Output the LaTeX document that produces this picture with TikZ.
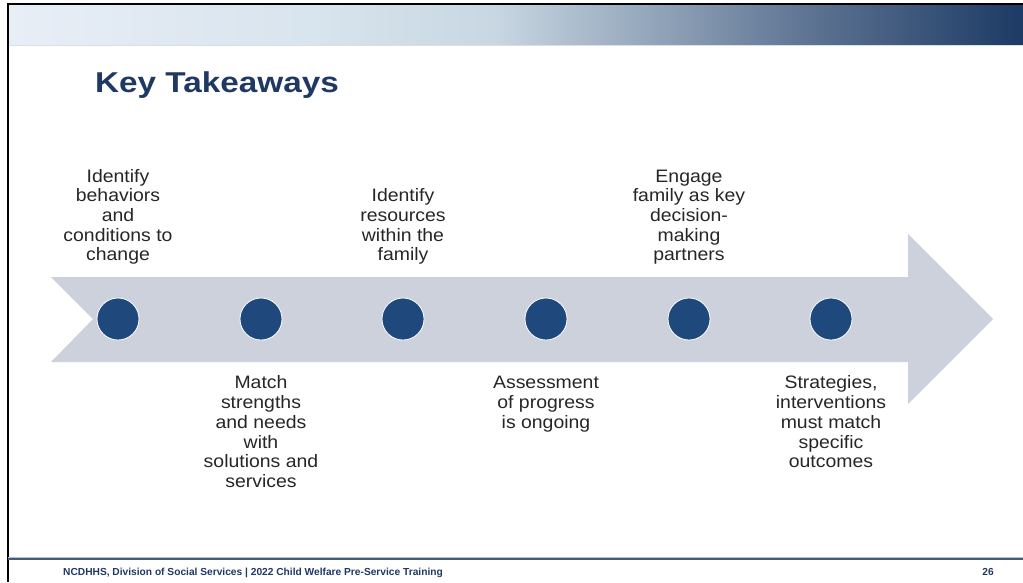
\documentclass[tikz,border=0pt]{standalone}
\usepackage{fontspec}
\setmainfont{Liberation Sans}
\newfontfamily\bodyfont[FakeStretch=1.08]{Liberation Sans}
\newfontfamily\titlefont[FakeStretch=1.16]{Liberation Sans}
\definecolor{arrowgray}{RGB}{205,209,219}
\definecolor{dotblue}{RGB}{31,73,125}
\definecolor{titleblue}{RGB}{31,56,100}
\definecolor{textgray}{RGB}{38,38,38}
\definecolor{footline}{RGB}{70,90,125}
\definecolor{bandA}{RGB}{232,238,246}
\definecolor{bandB}{RGB}{216,228,238}
\definecolor{bandC}{RGB}{200,215,226}
\definecolor{bandD}{RGB}{152,170,190}
\definecolor{bandE}{RGB}{96,118,148}
\definecolor{bandF}{RGB}{28,58,100}
\pgfdeclarehorizontalshading{bandshade}{100bp}{
  color(0bp)=(bandA);
  color(25bp)=(bandA);
  color(40bp)=(bandB);
  color(49bp)=(bandC);
  color(56bp)=(bandD);
  color(64bp)=(bandE);
  color(75bp)=(bandF);
  color(100bp)=(bandF)}
\tikzset{
  dot/.style={circle, fill=dotblue, draw=white, line width=0.8pt, minimum size=42pt, inner sep=0pt},
  toplabel/.style={anchor=south, align=center, inner sep=0pt, text=textgray,
    font=\bodyfont\fontsize{18}{19.7}\selectfont},
  botlabel/.style={anchor=north, align=center, inner sep=0pt, text=textgray,
    font=\bodyfont\fontsize{18}{19.7}\selectfont},
  foottext/.style={inner sep=0pt, text=titleblue, font=\bfseries\fontsize{10.2}{12}\selectfont},
}
\begin{document}
\begin{tikzpicture}[x=1pt,y=-1pt]
\useasboundingbox (0,0) rectangle (1023,582);
% header band
\shade[shading=bandshade] (8,5) rectangle (1023,45);
\draw[white!80!footline, line width=0.8pt] (8,45) -- (1023,45);
% frame lines
\draw[black, line width=2pt] (8,582) -- (8,4) -- (1023,4);
% title
\node[anchor=base west, inner sep=0pt, text=titleblue, font=\titlefont\bfseries\fontsize{28.7}{30}\selectfont] (title) at (95,92) {Key Takeaways};
% arrow
\fill[arrowgray] (51,277) -- (908,277) -- (908,234) -- (993,319) -- (908,404) -- (908,362) -- (51,362) -- (93,319) -- cycle;
% dots
\foreach \i/\x in {1/118,2/261,3/403,4/546,5/689,6/831}{
  \node[dot] (d\i) at (\x,319) {};
}
% labels
\node[toplabel] (l1) at (118,267) {\strut Identify\\behaviors\\and\\conditions to\\change\strut};
\node[toplabel] (l3) at (403,267) {\strut Identify\\resources\\within the\\family\strut};
\node[toplabel] (l5) at (689,267) {\strut Engage\\family as key\\decision-\\making\\partners\strut};
\node[botlabel] (l2) at (261,375) {\strut Match\\strengths\\and needs\\with\\solutions and\\services\strut};
\node[botlabel] (l4) at (546,375) {\strut Assessment\\of progress\\is ongoing\strut};
\node[botlabel] (l6) at (831,375) {\strut Strategies,\\interventions\\must match\\specific\\outcomes\strut};
% footer
\draw[footline, line width=1.6pt] (8,559) -- (1023,559);
\draw[white!60!footline, line width=0.6pt] (8,557.5) -- (1023,557.5);
\node[foottext, anchor=base west] (foot) at (63,575) {NCDHHS, Division of Social Services | 2022 Child Welfare Pre-Service Training};
\node[foottext, anchor=base] (page) at (988,575) {26};
\end{tikzpicture}
\end{document}
